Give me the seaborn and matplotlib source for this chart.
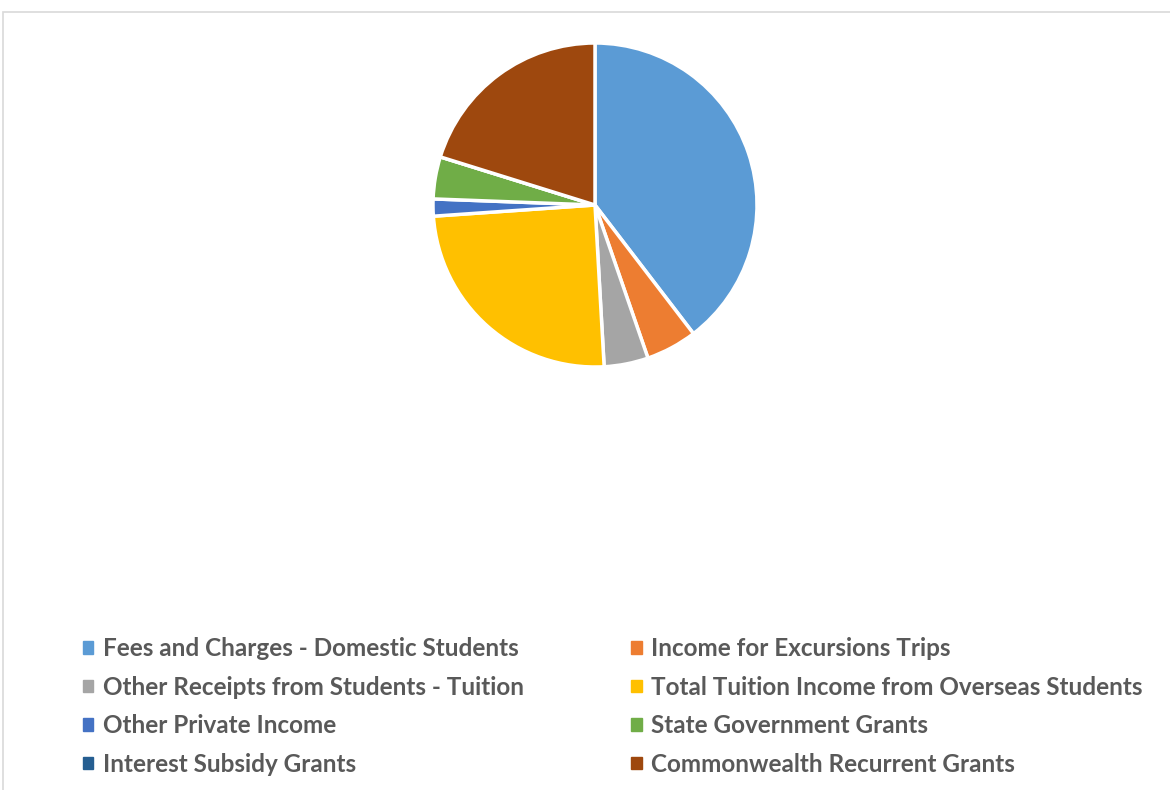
import matplotlib
matplotlib.use("Agg")
import matplotlib.pyplot as plt
import matplotlib.patches as mpatches
import seaborn as sns

CATEGORIES = [
    "Fees and Charges - Domestic Students",
    "Income for Excursions Trips",
    "Other Receipts from Students - Tuition",
    "Total Tuition Income from Overseas Students",
    "Other Private Income",
    "State Government Grants",
    "Interest Subsidy Grants",
    "Commonwealth Recurrent Grants",
]
SHARES = [39.6, 5.1, 4.4, 24.8, 1.7, 4.2, 0.0, 20.2]
COLORS = ["#5B9BD5", "#ED7D31", "#A5A5A5", "#FFC000",
          "#4472C4", "#70AD47", "#255E91", "#9E480E"]

sns.set_theme(style="white")
plt.rcParams["font.family"] = ["Lato", "DejaVu Sans"]

W, H = 1170, 790
fig = plt.figure(figsize=(W / 100, H / 100), dpi=100)

# pie centred at (595, 205) px, radius 162 px
cx, cy, r = 595, 205, 162
ax = fig.add_axes([(cx - r) / W, (H - cy - r) / H, 2 * r / W, 2 * r / H])
ax.pie(SHARES, colors=COLORS, startangle=90, counterclock=False,
       wedgeprops=dict(edgecolor="white", linewidth=2.5))
ax.set_xlim(-1, 1)
ax.set_ylim(-1, 1)
ax.set_aspect("equal")
ax.axis("off")

# chart area border
fig.patches.append(mpatches.Rectangle((3 / W, -0.5), 2, 1 - 12 / H + 0.5,
                                      transform=fig.transFigure, fill=False,
                                      edgecolor="#d9d9d9", linewidth=1.2))

handles = [mpatches.Patch(color=c, label=l) for c, l in zip(COLORS, CATEGORIES)]
order = [0, 2, 4, 6, 1, 3, 5, 7]
leg = fig.legend([handles[i] for i in order], [CATEGORIES[i] for i in order],
                 loc="upper left", bbox_to_anchor=(83 / W, 1 - 637 / H),
                 ncol=2, frameon=False, borderpad=0, borderaxespad=0,
                 handlelength=0.42, handleheight=0.42, handletextpad=0.4,
                 labelspacing=0.64, columnspacing=4.42,
                 prop=dict(family="Lato", weight="bold", size=17.5))
for t in leg.get_texts():
    t.set_color("#595959")

fig.savefig("out.png", dpi=100, facecolor="white")
